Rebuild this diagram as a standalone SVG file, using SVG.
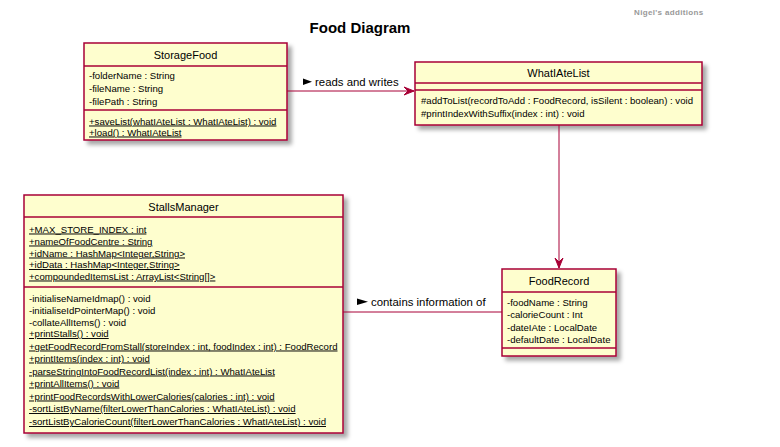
<svg xmlns="http://www.w3.org/2000/svg" width="780" height="447" viewBox="0 0 780 447">
<defs>
<filter id="sh" x="-10%" y="-10%" width="130%" height="130%">
<feDropShadow dx="4" dy="4" stdDeviation="2" flood-color="#000" flood-opacity="0.35"/>
</filter>
<marker id="arr" viewBox="0 0 10 10" refX="10" refY="5" markerWidth="10" markerHeight="10" markerUnits="userSpaceOnUse" orient="auto">
<path d="M0,1 L10,5 L0,9 L4,5 Z" fill="#A80036" stroke="#A80036" stroke-width="1"/>
</marker>
</defs>
<style>
text{font-family:"Liberation Sans",Arial,sans-serif;fill:#000}
.box{fill:#FEFECE;stroke:#A80036;stroke-width:1.5;filter:url(#sh)}
.sep{stroke:#A80036;stroke-width:1.5}
.cn{font-size:11px;text-anchor:middle}
.m{font-size:9.6px}
.u{text-decoration:underline}
.lbl{font-size:11.4px}
.edge{stroke:#A80036;stroke-width:1;fill:none}
.title{font-size:15px;font-weight:bold;text-anchor:middle}
.note{font-size:8px;font-weight:bold;fill:#999;letter-spacing:0.35px}
</style>
<rect width="780" height="447" fill="#fff"/>
<text class="title" x="360" y="33">Food Diagram</text>
<text class="note" x="634" y="15">Nigel's additions</text>

<g id="StorageFood">
<rect class="box" x="84" y="43" width="203" height="97"/>
<text class="cn" x="185.5" y="59">StorageFood</text>
<line class="sep" x1="84" y1="66" x2="287" y2="66"/>
<text class="m" x="89" y="79">-folderName : String</text>
<text class="m" x="89" y="92">-fileName : String</text>
<text class="m" x="89" y="104.5">-filePath : String</text>
<line class="sep" x1="84" y1="110" x2="287" y2="110"/>
<text class="m u" x="89" y="124.5">+saveList(whatIAteList : WhatIAteList) : void</text>
<text class="m u" x="89" y="135.5">+load() : WhatIAteList</text>
</g>

<g id="WhatIAteList">
<rect class="box" x="415" y="62" width="287" height="63"/>
<text class="cn" x="558.5" y="77">WhatIAteList</text>
<line class="sep" x1="415" y1="83" x2="702" y2="83"/>
<line class="sep" x1="415" y1="90" x2="702" y2="90"/>
<text class="m" x="421" y="104">#addToList(recordToAdd : FoodRecord, isSilent : boolean) : void</text>
<text class="m" x="421" y="117">#printIndexWithSuffix(index : int) : void</text>
</g>

<g id="StallsManager">
<rect class="box" x="24" y="195" width="319" height="238"/>
<text class="cn" x="183.5" y="211">StallsManager</text>
<line class="sep" x1="24" y1="217" x2="343" y2="217"/>
<text class="m u" x="29" y="232.5">+MAX_STORE_INDEX : int</text>
<text class="m u" x="29" y="244.5">+nameOfFoodCentre : String</text>
<text class="m u" x="29" y="256.5">+idName : HashMap&lt;Integer,String&gt;</text>
<text class="m u" x="29" y="268">+idData : HashMap&lt;Integer,String&gt;</text>
<text class="m u" x="29" y="279.5">+compoundedItemsList : ArrayList&lt;String[]&gt;</text>
<line class="sep" x1="24" y1="287" x2="343" y2="287"/>
<text class="m" x="29" y="301.5">-initialiseNameIdmap() : void</text>
<text class="m" x="29" y="313.5">-initialiseIdPointerMap() : void</text>
<text class="m" x="29" y="325.5">-collateAllItems() : void</text>
<text class="m u" x="29" y="337">+printStalls() : void</text>
<text class="m u" x="29" y="349.5">+getFoodRecordFromStall(storeIndex : int, foodIndex : int) : FoodRecord</text>
<text class="m u" x="29" y="361.5">+printItems(index : int) : void</text>
<text class="m u" x="29" y="374.5">-parseStringIntoFoodRecordList(index : int) : WhatIAteList</text>
<text class="m u" x="29" y="386.5">+printAllItems() : void</text>
<text class="m u" x="29" y="399.5">+printFoodRecordsWithLowerCalories(calories : int) : void</text>
<text class="m u" x="29" y="412">-sortListByName(filterLowerThanCalories : WhatIAteList) : void</text>
<text class="m u" x="29" y="425">-sortListByCalorieCount(filterLowerThanCalories : WhatIAteList) : void</text>
</g>

<g id="FoodRecord">
<rect class="box" x="502" y="269" width="114" height="87"/>
<text class="cn" x="559" y="285">FoodRecord</text>
<line class="sep" x1="502" y1="292" x2="616" y2="292"/>
<text class="m" x="507" y="305.5">-foodName : String</text>
<text class="m" x="507" y="317.5">-calorieCount : Int</text>
<text class="m" x="507" y="330.5">-dateIAte : LocalDate</text>
<text class="m" x="507" y="342.5">-defaultDate : LocalDate</text>
<line class="sep" x1="502" y1="348" x2="616" y2="348"/>
</g>

<g id="connectors">
<line class="edge" x1="287" y1="91" x2="414" y2="91" marker-end="url(#arr)"/>
<path d="M303,78.5 L312,81.7 L303,85 Z" fill="#000"/>
<text class="lbl" x="315" y="85.5">reads and writes</text>
<line class="edge" x1="559" y1="125" x2="559" y2="268" marker-end="url(#arr)"/>
<line class="edge" x1="343" y1="312" x2="502" y2="312"/>
<path d="M357,298.5 L368,301.7 L357,305 Z" fill="#000"/>
<text class="lbl" x="371" y="305.5">contains information of</text>
</g>
</svg>
